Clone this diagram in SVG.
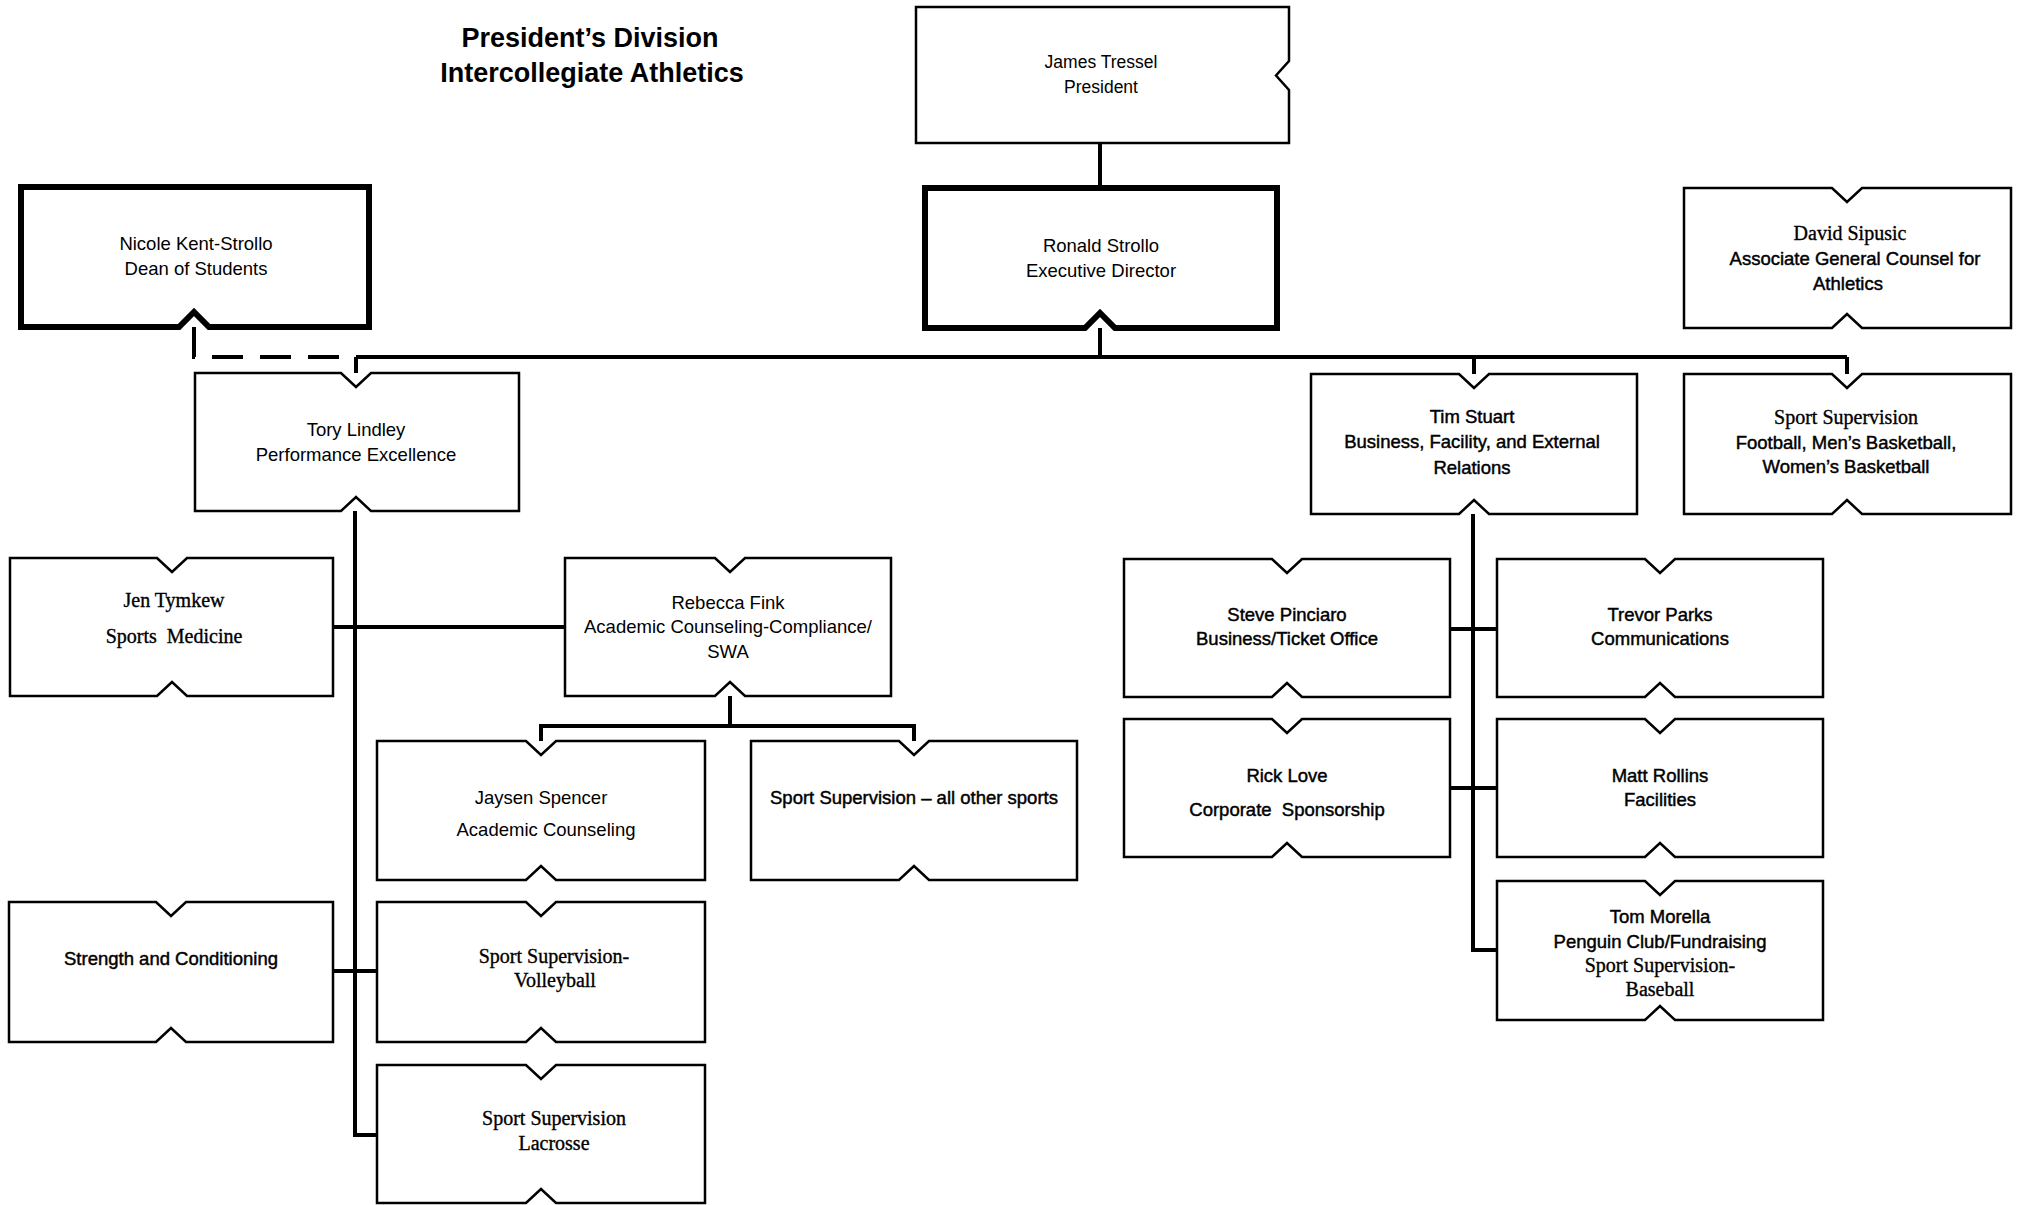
<svg xmlns="http://www.w3.org/2000/svg" width="2023" height="1205" viewBox="0 0 2023 1205">
<style>
.bx{fill:#fff;stroke:#000;stroke-width:2.5;stroke-linejoin:miter}
.thick{stroke-width:6}
.cn{fill:none;stroke:#000;stroke-width:4}
.dash{stroke-dasharray:31 17}
text{font-family:"Liberation Sans",Arial,sans-serif;font-size:18.5px;text-anchor:middle;fill:#000}
.sb{stroke:#000;stroke-width:0.45}
.sf{font-family:"Liberation Serif","Times New Roman",serif;font-size:20px;stroke:#000;stroke-width:0.35}
.title{font-weight:bold;font-size:27px}
.sm{font-size:17.5px}
</style>
<rect width="2023" height="1205" fill="#fff"/>
<g id="title">
<text class="title" x="590" y="47">President’s Division</text>
<text class="title" x="592" y="82">Intercollegiate Athletics</text>
</g>
<g id="connectors">
<path class="cn" d="M1100,143 V188"/>
<path class="cn" d="M1100,328 V357"/>
<path class="cn" d="M356,357 H1847"/>
<path class="cn dash" d="M194,327 V357 H356"/>
<path class="cn" d="M356,357 V373"/>
<path class="cn" d="M1474,357 V374"/>
<path class="cn" d="M1847,357 V374"/>
<path class="cn" d="M355,511 V1135 H377"/>
<path class="cn" d="M333,627 H565"/>
<path class="cn" d="M333,971 H377"/>
<path class="cn" d="M730,696 V726"/>
<path class="cn" d="M541,741 V726 H914 V741"/>
<path class="cn" d="M1473,514 V950 H1497"/>
<path class="cn" d="M1450,629 H1497"/>
<path class="cn" d="M1450,788 H1497"/>
</g>
<g id="n-tressel">
<path class="bx" d="M916,7 H1289 V61 L1276,75.5 L1289,90 V143 H916 Z"/>
<text class="sm" x="1101" y="68">James Tressel</text>
<text class="sm" x="1101" y="93">President</text>
</g>
<g id="n-strollo">
<path class="bx thick" d="M925,188 H1277 V328 H1115 L1100,313 L1085,328 H925 Z"/>
<text x="1101" y="252">Ronald Strollo</text>
<text x="1101" y="277">Executive Director</text>
</g>
<g id="n-kent">
<path class="bx thick" d="M21,187 H369 V327 H209 L194,312 L179,327 H21 Z"/>
<text x="196" y="250">Nicole Kent-Strollo</text>
<text x="196" y="275">Dean of Students</text>
</g>
<g id="n-sipusic">
<path class="bx" d="M1684,188 H1832 L1847,202 L1862,188 H2011 V328 H1862 L1847,314 L1832,328 H1684 Z"/>
<text class="sf" x="1850" y="240">David Sipusic</text>
<text class="sb" x="1855" y="265">Associate General Counsel for</text>
<text class="sb" x="1848" y="290">Athletics</text>
</g>
<g id="n-lindley">
<path class="bx" d="M195,373 H341 L356,387 L371,373 H519 V511 H371 L356,497 L341,511 H195 Z"/>
<text x="356" y="436">Tory Lindley</text>
<text x="356" y="461">Performance Excellence</text>
</g>
<g id="n-stuart">
<path class="bx" d="M1311,374 H1459 L1474,388 L1489,374 H1637 V514 H1489 L1474,500 L1459,514 H1311 Z"/>
<text class="sb" x="1472" y="423">Tim Stuart</text>
<text class="sb" x="1472" y="448">Business, Facility, and External</text>
<text class="sb" x="1472" y="474">Relations</text>
</g>
<g id="n-sport-fb">
<path class="bx" d="M1684,374 H1832 L1847,388 L1862,374 H2011 V514 H1862 L1847,500 L1832,514 H1684 Z"/>
<text class="sf" x="1846" y="424">Sport Supervision</text>
<text class="sb" x="1846" y="449">Football, Men’s Basketball,</text>
<text class="sb" x="1846" y="473">Women’s Basketball</text>
</g>
<g id="n-tymkew">
<path class="bx" d="M10,558 H157 L172,572 L187,558 H333 V696 H187 L172,682 L157,696 H10 Z"/>
<text class="sf" x="174" y="607">Jen Tymkew</text>
<text class="sf" x="174" y="643" xml:space="preserve">Sports  Medicine</text>
</g>
<g id="n-fink">
<path class="bx" d="M565,558 H715 L730,572 L745,558 H891 V696 H745 L730,682 L715,696 H565 Z"/>
<text x="728" y="609">Rebecca Fink</text>
<text x="728" y="633">Academic Counseling-Compliance/</text>
<text x="728" y="658">SWA</text>
</g>
<g id="n-spencer">
<path class="bx" d="M377,741 H526 L541,755 L556,741 H705 V880 H556 L541,866 L526,880 H377 Z"/>
<text x="541" y="804">Jaysen Spencer</text>
<text x="546" y="836">Academic Counseling</text>
</g>
<g id="n-other">
<path class="bx" d="M751,741 H899 L914,755 L929,741 H1077 V880 H929 L914,866 L899,880 H751 Z"/>
<text class="sb" x="914" y="804">Sport Supervision – all other sports</text>
</g>
<g id="n-strength">
<path class="bx" d="M9,902 H156 L171,916 L186,902 H333 V1042 H186 L171,1028 L156,1042 H9 Z"/>
<text class="sb" x="171" y="965">Strength and Conditioning</text>
</g>
<g id="n-volleyball">
<path class="bx" d="M377,902 H526 L541,916 L556,902 H705 V1042 H556 L541,1028 L526,1042 H377 Z"/>
<text class="sf" x="554" y="963">Sport Supervision-</text>
<text class="sf" x="555" y="987">Volleyball</text>
</g>
<g id="n-lacrosse">
<path class="bx" d="M377,1065 H526 L541,1079 L556,1065 H705 V1203 H556 L541,1189 L526,1203 H377 Z"/>
<text class="sf" x="554" y="1125">Sport Supervision</text>
<text class="sf" x="554" y="1150">Lacrosse</text>
</g>
<g id="n-pinciaro">
<path class="bx" d="M1124,559 H1272 L1287,573 L1302,559 H1450 V697 H1302 L1287,683 L1272,697 H1124 Z"/>
<text class="sb" x="1287" y="621">Steve Pinciaro</text>
<text class="sb" x="1287" y="645">Business/Ticket Office</text>
</g>
<g id="n-parks">
<path class="bx" d="M1497,559 H1645 L1660,573 L1675,559 H1823 V697 H1675 L1660,683 L1645,697 H1497 Z"/>
<text class="sb" x="1660" y="621">Trevor Parks</text>
<text class="sb" x="1660" y="645">Communications</text>
</g>
<g id="n-love">
<path class="bx" d="M1124,719 H1272 L1287,733 L1302,719 H1450 V857 H1302 L1287,843 L1272,857 H1124 Z"/>
<text class="sb" x="1287" y="782">Rick Love</text>
<text class="sb" x="1287" y="816" xml:space="preserve">Corporate  Sponsorship</text>
</g>
<g id="n-rollins">
<path class="bx" d="M1497,719 H1645 L1660,733 L1675,719 H1823 V857 H1675 L1660,843 L1645,857 H1497 Z"/>
<text class="sb" x="1660" y="782">Matt Rollins</text>
<text class="sb" x="1660" y="806">Facilities</text>
</g>
<g id="n-morella">
<path class="bx" d="M1497,881 H1645 L1660,895 L1675,881 H1823 V1020 H1675 L1660,1006 L1645,1020 H1497 Z"/>
<text class="sb" x="1660" y="923">Tom Morella</text>
<text class="sb" x="1660" y="948">Penguin Club/Fundraising</text>
<text class="sf" x="1660" y="972">Sport Supervision-</text>
<text class="sf" x="1660" y="996">Baseball</text>
</g>
</svg>
